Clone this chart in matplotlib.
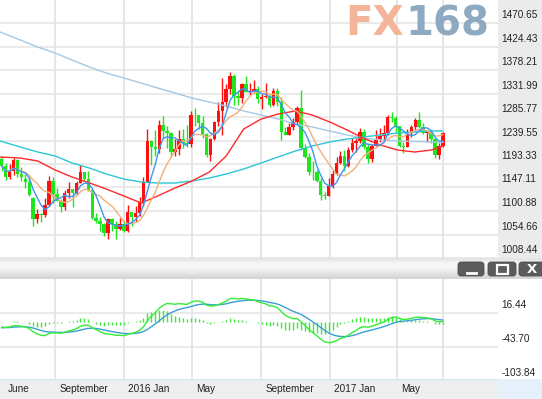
import matplotlib
matplotlib.use("Agg")
import matplotlib.pyplot as plt
import matplotlib.dates as mdates
from matplotlib.patches import Rectangle, FancyBboxPatch
from matplotlib.transforms import ScaledTranslation, blended_transform_factory
import numpy as np
import pandas as pd

plt.rcParams['font.family'] = ['Liberation Sans', 'DejaVu Sans']

# weekly candles (gold, week ending Friday)
first_week = "2015-05-29"
opens = [1204, 1190, 1168, 1180, 1201, 1173, 1164, 1157, 1126, 1085, 1095, 1094, 1113, 1159, 1134, 1121,
         1108, 1137, 1145, 1137, 1156, 1177, 1163, 1142, 1088, 1081, 1076, 1057, 1086, 1075, 1065, 1076,
         1061, 1098, 1089, 1097, 1118, 1158, 1239, 1227, 1222, 1271, 1259, 1255, 1217, 1222, 1243, 1234,
         1232, 1290, 1289, 1273, 1252, 1212, 1243, 1275, 1298, 1315, 1340, 1366, 1327, 1323, 1350, 1335,
         1336, 1341, 1321, 1326, 1328, 1310, 1337, 1316, 1257, 1251, 1266, 1276, 1304, 1225, 1208, 1178,
         1177, 1160, 1133, 1131, 1151, 1173, 1196, 1210, 1190, 1220, 1234, 1239, 1257, 1226, 1203, 1229,
         1243, 1249, 1254, 1285, 1284, 1268, 1228, 1227, 1254, 1267, 1279, 1266, 1254, 1256, 1242, 1212,
         1228]
highs = [1209, 1196, 1193, 1205, 1204, 1188, 1174, 1167, 1129, 1104, 1097, 1127, 1170, 1168, 1147, 1124,
         1142, 1157, 1145, 1160, 1191, 1178, 1180, 1143, 1097, 1089, 1078, 1088, 1088, 1081, 1088, 1082,
         1112, 1099, 1111, 1128, 1168, 1263, 1240, 1261, 1280, 1287, 1269, 1256, 1243, 1260, 1262, 1271,
         1297, 1304, 1290, 1287, 1254, 1244, 1277, 1315, 1362, 1350, 1375, 1370, 1338, 1352, 1367, 1352,
         1358, 1346, 1331, 1352, 1331, 1343, 1343, 1325, 1267, 1274, 1284, 1307, 1338, 1232, 1215, 1199,
         1182, 1166, 1138, 1165, 1182, 1207, 1219, 1220, 1226, 1244, 1245, 1264, 1263, 1234, 1233, 1261,
         1264, 1270, 1289, 1295, 1288, 1269, 1237, 1263, 1271, 1283, 1296, 1274, 1260, 1260, 1243, 1234,
         1256]
lows = [1180, 1162, 1163, 1172, 1168, 1160, 1147, 1131, 1072, 1077, 1080, 1090, 1110, 1117, 1121, 1098,
        1102, 1126, 1108, 1132, 1155, 1159, 1141, 1085, 1077, 1062, 1052, 1046, 1062, 1046, 1064, 1060,
        1060, 1071, 1080, 1092, 1111, 1157, 1191, 1209, 1215, 1244, 1225, 1208, 1210, 1212, 1224, 1227,
        1227, 1269, 1262, 1245, 1208, 1199, 1241, 1268, 1250, 1306, 1331, 1310, 1310, 1313, 1334, 1329,
        1332, 1314, 1302, 1323, 1306, 1307, 1307, 1241, 1250, 1250, 1261, 1272, 1220, 1205, 1171, 1161,
        1157, 1122, 1124, 1130, 1147, 1172, 1194, 1180, 1188, 1216, 1216, 1234, 1223, 1195, 1198, 1228,
        1237, 1240, 1250, 1276, 1256, 1227, 1214, 1226, 1247, 1259, 1264, 1252, 1237, 1235, 1205, 1204,
        1227]
closes = [1190, 1168, 1180, 1201, 1173, 1168, 1157, 1132, 1085, 1095, 1094, 1113, 1159, 1134, 1121, 1108,
          1137, 1145, 1137, 1156, 1177, 1163, 1142, 1088, 1081, 1076, 1057, 1086, 1075, 1065, 1076, 1061,
          1098, 1089, 1097, 1118, 1158, 1239, 1227, 1222, 1271, 1259, 1255, 1217, 1222, 1243, 1234, 1232,
          1290, 1289, 1273, 1252, 1212, 1243, 1275, 1298, 1315, 1340, 1366, 1327, 1323, 1350, 1335, 1336,
          1341, 1321, 1326, 1328, 1310, 1337, 1316, 1257, 1251, 1266, 1276, 1304, 1225, 1208, 1178, 1177,
          1160, 1133, 1131, 1151, 1173, 1196, 1210, 1190, 1220, 1234, 1239, 1257, 1226, 1203, 1229, 1243,
          1249, 1254, 1285, 1284, 1268, 1228, 1227, 1254, 1267, 1279, 1266, 1254, 1256, 1242, 1212, 1228,
          1254]

# slow moving averages (their history starts before the window)
ma_dates = ["2015-05-26", "2015-07-01", "2015-08-01", "2015-09-01", "2015-10-01", "2015-11-01",
            "2015-12-01", "2016-01-01", "2016-02-01", "2016-03-01", "2016-04-01", "2016-05-01",
            "2016-06-01", "2016-07-01", "2016-08-01", "2016-09-01", "2016-10-01", "2016-11-01",
            "2016-12-01", "2017-01-01", "2017-02-01", "2017-03-01", "2017-04-01", "2017-05-01",
            "2017-06-01", "2017-07-01", "2017-07-21"]
ma_long = [1453.0, 1437.2, 1423.4, 1411.6, 1397.9, 1384.1, 1372.3, 1362.5, 1352.6, 1342.8, 1333.0,
           1323.1, 1315.3, 1307.4, 1297.6, 1289.7, 1281.8, 1272.0, 1266.1, 1258.2, 1250.4, 1244.5,
           1240.6, 1238.6, 1237.6, 1236.6, 1236.0]
ma_cyan = [1238.6, 1226.8, 1216.9, 1209.1, 1195.3, 1185.4, 1173.6, 1163.8, 1157.9, 1155.9, 1155.9,
           1159.9, 1165.8, 1173.6, 1183.5, 1195.3, 1207.1, 1218.9, 1228.7, 1236.6, 1242.5, 1246.4,
           1250.4, 1254.3, 1256.3, 1258.2, 1258.2]
ma_red = [1207.1, 1205.1, 1199.2, 1181.5, 1167.7, 1156.0, 1144.1, 1130.4, 1116.6, 1130.4, 1146.1,
          1159.9, 1177.6, 1209.1, 1262.1, 1281.8, 1291.6, 1297.6, 1289.7, 1275.9, 1260.2, 1244.5,
          1230.7, 1220.9, 1216.9, 1220.9, 1228.7]

# MACD starting values
macd_start = -10.0
signal_start = -10.0

price_ticks = [1008.44, 1054.66, 1100.88, 1147.11, 1193.33, 1239.55, 1285.77, 1331.99, 1378.21,
               1424.43, 1470.65]
macd_ticks = [76.58, 16.44, -43.70, -103.84]
month_dates = ["2015-06-01", "2015-09-01", "2016-01-01", "2016-05-01", "2016-09-01", "2017-01-01",
               "2017-05-01"]
month_labels = ["June", "September", "2016 Jan", "May", "September", "2017 Jan", "May"]

UP = "#ff1010"
DOWN = "#1ee61e"
GRID = "#e4e4e4"

W, H = 542, 399
fig = plt.figure(figsize=(W / 100, H / 100), dpi=100)
fig.patch.set_facecolor("white")


def box(x0, y0, x1, y1):
    # pixel box (top-left origin) -> figure fraction rect
    return [x0 / W, 1 - y1 / H, (x1 - x0) / W, (y1 - y0) / H]


week_dates = pd.date_range(first_week, periods=len(closes), freq="W-FRI")
xd = mdates.date2num(week_dates)
x_start = mdates.date2num(pd.Timestamp("2015-05-26"))
x_end = x_start + 885

o = np.array(opens, float)
h = np.array(highs, float)
l = np.array(lows, float)
c = np.array(closes, float)

# right label strip of price panel
fig.add_artist(Rectangle((498 / W, 1 - 258 / H), 44 / W, 258 / H, transform=fig.transFigure,
                         facecolor="#ebebeb", edgecolor="none", zorder=0))

ax = fig.add_axes(box(0, 0, 498, 258))
ax.set_xlim(x_start, x_end)
ax.set_ylim(1008.44, 1515.9)
for s in ax.spines.values():
    s.set_visible(False)
ax.set_xticks([])
ax.yaxis.tick_right()
ax.set_yticks(price_ticks)
ax.set_yticklabels([f"{v:.2f}" for v in price_ticks])
ax.tick_params(axis="y", length=0, pad=2.5, labelsize=7.2, labelcolor="#222222")
off = ScaledTranslation(0, 0.03, fig.dpi_scale_trans)
for lab in ax.get_yticklabels():
    lab.set_va("bottom")
    lab.set_transform(lab.get_transform() + off)
for v in price_ticks:
    ax.axhline(v, color=GRID, lw=1.1, zorder=0)
grid_x = [mdates.date2num(pd.Timestamp(d)) for d in month_dates[1:]] + [xd[-1]]
for gx in grid_x:
    ax.axvline(gx, color=GRID, lw=1.3, zorder=0)

# candles
colors = np.where(c >= o, UP, DOWN)
ax.vlines(xd, l, h, colors=colors, lw=1.0, zorder=2)
body = np.maximum(np.abs(c - o), 1.5)
ax.bar(xd, body, bottom=np.minimum(o, c), width=6.2, color=colors, linewidth=0, zorder=3)

# moving averages
mx = mdates.date2num(pd.to_datetime(ma_dates))
ax.plot(mx, ma_long, color="#a6c8e2", lw=1.0, zorder=4)
ax.plot(mx, ma_cyan, color="#2cc6d6", lw=1.0, zorder=4)
ax.plot(mx, ma_red, color="#ff2a2a", lw=1.0, zorder=4)
close_s = pd.Series(c)
ax.plot(xd, close_s.rolling(10, min_periods=1).mean(), color="#f2b07e", lw=1.0, zorder=5)
ax.plot(xd, close_s.rolling(5, min_periods=1).mean(), color="#3d97f2", lw=1.0, zorder=5)

# watermark
fig.text(404 / W, 1 - 35 / H, "FX", color="#f4b49a", fontsize=29, fontweight="bold",
         family="DejaVu Sans", ha="right", va="baseline", zorder=10)
fig.text(405 / W, 1 - 35 / H, "168", color="#8eaac2", fontsize=29, fontweight="bold",
         family="DejaVu Sans", ha="left", va="baseline", zorder=10)

# MACD panel
ema_fast = pd.concat([pd.Series([c[0] + macd_start]), close_s]).ewm(span=12, adjust=False).mean().iloc[1:]
ema_slow = pd.concat([pd.Series([c[0]]), close_s]).ewm(span=26, adjust=False).mean().iloc[1:]
macd = ema_fast.values - ema_slow.values
signal = pd.concat([pd.Series([signal_start]), pd.Series(macd)]).ewm(span=9, adjust=False).mean().iloc[1:].values
hist = macd - signal

axm = fig.add_axes(box(0, 279, 498, 381))
axm.set_xlim(x_start, x_end)
axm.set_ylim(-103.84, 76.58)
for s in axm.spines.values():
    s.set_visible(False)
axm.set_xticks([])
axm.yaxis.tick_right()
axm.set_yticks(macd_ticks[1:])
axm.set_yticklabels([f"{v:.2f}" for v in macd_ticks[1:]])
axm.tick_params(axis="y", length=0, pad=2.5, labelsize=7.2, labelcolor="#222222")
for lab in axm.get_yticklabels():
    lab.set_va("bottom")
    lab.set_transform(lab.get_transform() + off)
for v in macd_ticks[1:3]:
    axm.axhline(v, color=GRID, lw=1.1, zorder=0)
for gx in grid_x:
    axm.axvline(gx, color=GRID, lw=1.3, zorder=0)
axm.vlines(xd, 0, hist, colors="#3ee83e", lw=1.0, zorder=2)
axm.plot(xd, signal, color="#3a9fd2", lw=1.0, zorder=3)
axm.plot(xd, macd, color="#33ee33", lw=1.0, zorder=4)

# header bar with window buttons
axh = fig.add_axes(box(0, 258, 542, 279))
axh.set_xlim(0, W)
axh.set_ylim(279, 258)
axh.axis("off")
grad = np.array([[0.90], [0.96], [0.97], [0.95], [0.92], [0.88], [0.84]])
axh.imshow(np.repeat(grad, 3, axis=1)[:, :, None].repeat(3, axis=2) * np.ones((1, 1, 3)),
           extent=(0, W, 279, 258), aspect="auto", interpolation="bilinear", zorder=0)
for bx0, bx1 in [(458, 484), (488, 516), (519, 546)]:
    axh.add_patch(FancyBboxPatch((bx0, 262), bx1 - bx0, 14, boxstyle="round,pad=0,rounding_size=3",
                                 facecolor="#5c5c5c", edgecolor="#4a4a4a", lw=0.6, zorder=2))
axh.plot([467, 476], [273, 273], color="white", lw=2.0, zorder=3)
axh.add_patch(Rectangle((496.5, 264.5), 11, 9, facecolor="none", edgecolor="white", lw=1.6, zorder=3))
axh.text(532, 269.5, "X", color="white", fontsize=9.5, fontweight="bold", ha="center", va="center",
         family="DejaVu Sans", zorder=3)

# bottom date band
fig.add_artist(Rectangle((498 / W, 0), 44 / W, 20 / H, transform=fig.transFigure,
                         facecolor="#e6f0fa", edgecolor="none", zorder=5))
axb = fig.add_axes(box(0, 379, 498, 399))
axb.set_xlim(x_start, x_end)
axb.set_ylim(0, 1)
axb.set_facecolor("#efefef")
for s in axb.spines.values():
    s.set_visible(False)
axb.set_xticks([])
axb.set_yticks([])
axb.axhline(1, color="#c4ecec", lw=1.6)
tr = blended_transform_factory(axb.transData, axb.transAxes) + ScaledTranslation(0.04, 0, fig.dpi_scale_trans)
for d, lab in zip(month_dates, month_labels):
    axb.text(mdates.date2num(pd.Timestamp(d)), 0.5, lab, transform=tr, ha="left", va="center",
             fontsize=7.2, color="#222222")

fig.savefig("out.png", dpi=100)
